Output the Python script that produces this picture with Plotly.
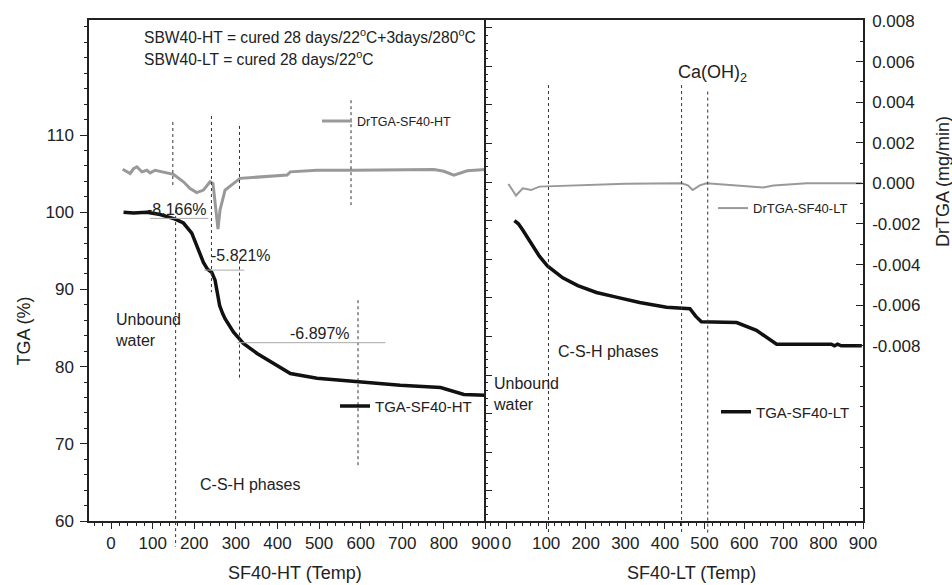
import plotly.graph_objects as go

# ---------------- data ----------------
ht_temp = [30, 54, 86, 118, 154, 174, 194, 210, 222, 232, 242, 250, 255, 261, 268, 274, 294,
           318, 351, 375, 431, 495, 599, 695, 792, 824, 848, 900]
ht_tga = [100.0, 99.9, 100.0, 99.7, 99.1, 98.6, 97.3, 95.2, 93.5, 92.6, 92.2, 91.2, 89.8, 87.9,
          86.9, 86.2, 84.5, 83.0, 81.7, 80.9, 79.1, 78.5, 78.0, 77.6, 77.3, 76.8, 76.4, 76.3]

ht_dr_temp = [28, 46, 54, 62, 74, 86, 94, 106, 150, 174, 190, 206, 222, 238, 245, 250, 254,
              257, 262, 274, 310, 375, 423, 431, 495, 583, 776, 800, 824, 856, 900]
ht_dr = [0.00005, -0.00016, 0.00008, 0.00017, -0.00008, 0.0, -0.00013, 0.0, -0.0002, -0.00057,
         -0.0009, -0.0011, -0.00098, -0.00057, -0.00065, -0.0016, -0.0025, -0.0029, -0.00195,
         -0.00098, -0.0004, -0.0003, -0.00024, -0.00008, 0.0, 0.0, 0.00003, -0.00005, -0.00024,
         -0.00003, 0.00003]

lt_temp = [20, 30, 41, 67, 83, 104, 142, 180, 227, 277, 336, 404, 454, 463, 478, 492, 581, 631,
           682, 820, 828, 836, 845, 897]
lt_tga = [100.0, 99.6, 98.8, 96.7, 95.4, 94.1, 92.6, 91.6, 90.7, 90.1, 89.4, 88.8, 88.6, 88.6,
          87.6, 86.9, 86.8, 85.8, 84.0, 84.0, 83.8, 84.0, 83.8, 83.8]

lt_dr_temp = [5, 24, 41, 62, 83, 126, 210, 300, 442, 458, 470, 488, 505, 589, 648, 674, 758, 897]
lt_dr = [-0.00003, -0.0006, -0.00024, -0.00033, -0.00016, -0.00013, -0.00005, -0.00002, 0.0,
         -0.0001, -0.00033, -0.0001, 0.0, -0.0001, -0.0002, -0.0001, 0.0, 0.0]

x_ticks = [0, 100, 200, 300, 400, 500, 600, 700, 800, 900]
tga_ticks = [60, 70, 80, 90, 100, 110]
dr_ticks = [-0.008, -0.006, -0.004, -0.002, 0.0, 0.002, 0.004, 0.006, 0.008]
dr_ticktext = ["-0.008", "-0.006", "-0.004", "-0.002", "0.000", "0.002", "0.004", "0.006", "0.008"]

FONT = "Liberation Sans, Arial, sans-serif"
GRAY = "#999999"
BLACK = "#111111"
AX = "#222222"

fig = go.Figure()

fig.add_trace(go.Scatter(x=ht_dr_temp, y=ht_dr, xaxis="x", yaxis="y4", mode="lines",
                         line=dict(color=GRAY, width=3), name="DrTGA-SF40-HT", legend="legend"))
fig.add_trace(go.Scatter(x=ht_temp, y=ht_tga, xaxis="x", yaxis="y", mode="lines",
                         line=dict(color=BLACK, width=3.5), name="TGA-SF40-HT", legend="legend2"))
fig.add_trace(go.Scatter(x=lt_dr_temp, y=lt_dr, xaxis="x2", yaxis="y3", mode="lines",
                         line=dict(color=GRAY, width=2), name="DrTGA-SF40-LT", legend="legend3"))
fig.add_trace(go.Scatter(x=lt_temp, y=lt_tga, xaxis="x2", yaxis="y2", mode="lines",
                         line=dict(color=BLACK, width=3.5), name="TGA-SF40-LT", legend="legend4"))

W, H = 952, 585
ML, MR, MT, MB = 89, 89, 15, 64
split = 396.5 / (W - ML - MR)

tickfont = dict(family=FONT, size=17, color="#222")
xcommon = dict(range=[-53, 900], tickmode="array", tickvals=x_ticks, ticks="outside", ticklen=6,
               tickwidth=1, tickcolor=AX, showline=True, linecolor=AX, linewidth=1.5,
               mirror=True, showgrid=False, zeroline=False, tickfont=tickfont,
               minor=dict(dtick=20, tick0=0, ticks="outside", ticklen=3, tickwidth=1,
                          tickcolor=AX, showgrid=False))

leg_common = dict(bgcolor="rgba(0,0,0,0)", borderwidth=0, xanchor="left", yanchor="middle")

fig.update_layout(
    width=W, height=H, margin=dict(l=ML, r=MR, t=MT, b=MB),
    paper_bgcolor="white", plot_bgcolor="white",
    font=dict(family=FONT, color="#222"),
    xaxis=dict(domain=[0, split], anchor="y", **xcommon),
    xaxis2=dict(domain=[split, 1], anchor="y2", **xcommon),
    yaxis=dict(domain=[0, 1], anchor="x", range=[60, 124.9], tickmode="array", tickvals=tga_ticks,
               ticks="outside", ticklen=7, tickwidth=1, tickcolor=AX, showline=True,
               linecolor=AX, linewidth=1.5, mirror=False, showgrid=False, zeroline=False,
               tickfont=tickfont, ticklabelstandoff=3,
               minor=dict(dtick=2, tick0=60, ticks="outside", ticklen=3, tickwidth=1,
                          tickcolor=AX, showgrid=False)),
    yaxis2=dict(domain=[0, 1], anchor="x2", range=[61.1, 126.0], dtick=5, tick0=0, ticks="inside",
                ticklen=7, tickwidth=1, tickcolor=AX, showticklabels=False, showline=True,
                linecolor=AX, linewidth=1.5, showgrid=False, zeroline=False,
                minor=dict(dtick=1, tick0=0, ticks="inside", ticklen=3, tickwidth=1,
                           tickcolor=AX, showgrid=False)),
    yaxis3=dict(overlaying="y2", anchor="x2", side="right", range=[-0.016634, 0.008049],
                tickmode="array", tickvals=dr_ticks, ticktext=dr_ticktext, ticks="inside",
                ticklen=7, tickwidth=1, tickcolor=AX, showline=True, linecolor=AX, linewidth=1.5,
                showgrid=False, zeroline=False, tickfont=tickfont, ticklabelstandoff=4,
                minor=dict(dtick=0.001, tick0=0, ticks="inside", ticklen=3, tickwidth=1,
                           tickcolor=AX, showgrid=False)),
    yaxis4=dict(overlaying="y", anchor="x", range=[-0.01728, 0.0074], visible=False),
    legend=dict(x=(317 - ML) / 774, y=(521 - 117.3) / 506, font=dict(family=FONT, size=12.5), **leg_common),
    legend2=dict(x=(335 - ML) / 774, y=(521 - 405) / 506, font=dict(family=FONT, size=15), **leg_common),
    legend3=dict(x=(713 - ML) / 774, y=(521 - 205) / 506, font=dict(family=FONT, size=13), **leg_common),
    legend4=dict(x=(716 - ML) / 774, y=(521 - 411) / 506, font=dict(family=FONT, size=15), **leg_common),
    showlegend=True,
)

# ---------------- reference lines ----------------
def py(p):
    return (521 - p) / 506

vlines = [("x", 148.5, 118, 183), ("x", 155.2, 207, 547), ("x", 241.3, 112, 290),
          ("x", 308.7, 122, 188), ("x", 308.7, 258, 378), ("x", 576.8, 96, 202),
          ("x", 593.6, 298, 465),
          ("x2", 106, 80.7, 533), ("x2", 442, 80.7, 533), ("x2", 508, 87.3, 533)]
for xr, t, p0, p1 in vlines:
    fig.add_shape(type="line", xref=xr, yref="paper", x0=t, x1=t, y0=py(p0), y1=py(p1),
                  line=dict(color="#333", width=1, dash="dot"))

hlines = [(93.8, 234.1, 99.2), (223.8, 320.0, 92.5), (303.9, 659.3, 83.1)]
for t0, t1, v in hlines:
    fig.add_shape(type="line", xref="x", yref="y", x0=t0, x1=t1, y0=v, y1=v,
                  line=dict(color="#aaaaaa", width=1))

# ---------------- annotations ----------------
def ann(text, x, y, xref="paper", yref="paper", size=16, xanchor="center", yanchor="middle",
        align="center", angle=0):
    fig.add_annotation(text=text, x=x, y=y, xref=xref, yref=yref, showarrow=False,
                       font=dict(family=FONT, size=size, color="#222"), xanchor=xanchor,
                       yanchor=yanchor, align=align, textangle=angle)

ann("SBW40-HT = cured 28 days/22<sup>o</sup>C+3days/280<sup>o</sup>C", (141.7 - ML) / 774, py(31),
    size=15.6, xanchor="left")
ann("SBW40-LT = cured 28 days/22<sup>o</sup>C", (141.7 - ML) / 774, py(53.3), size=15.6, xanchor="left")

ann("-8.166%", 158.8, 100.4, "x", "y", size=16)
ann("-5.821%", 311.6, 94.45, "x", "y", size=16)
ann("-6.897%", 503, 84.27, "x", "y", size=16)
ann("Unbound<br>water", 4.1, 84.68, "x", "y", size=16, xanchor="left", align="left")
ann("C-S-H phases", 333, 64.7, "x", "y", size=16)

ann("Unbound<br>water", -38.7, 77.6, "x2", "y2", size=16, xanchor="left", align="left")
ann("C-S-H phases", 256.7, 83.0, "x2", "y2", size=16)
ann("Ca(OH)<sub>2</sub>", 427.4, py(69.3), "x2", "paper", size=18, xanchor="left")

ann("SF40-HT (Temp)", (295 - ML) / 774, py(573.3), size=18)
ann("SF40-LT (Temp)", (691.7 - ML) / 774, py(573.3), size=18)
ann("TGA (%)", (23.5 - ML) / 774, py(329), size=18, angle=-90)
ann("DrTGA (mg/min)", (943 - ML) / 774, py(178.5), size=18, angle=-90)

fig.write_html("out.html")
